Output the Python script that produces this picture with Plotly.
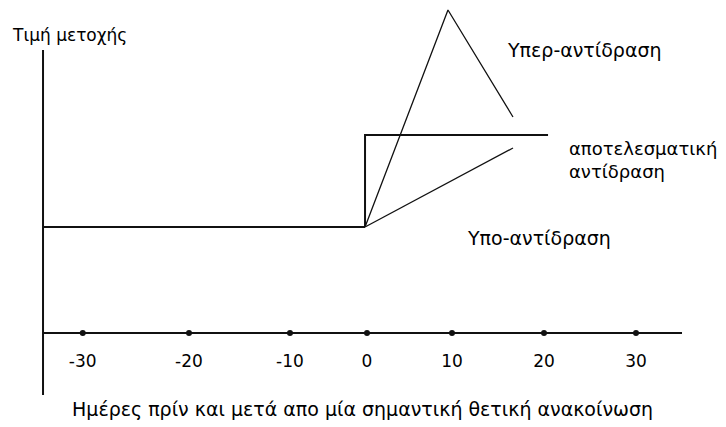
import plotly.graph_objects as go

# ---- data (x in days, y in arbitrary price units) ----
tick_pos = [-31.7, -19.85, -8.59, 0.0, 9.48, 19.74, 30.0]
tick_labels = ["-30", "-20", "-10", "0", "10", "20", "30"]

base_x = [-36.13, -0.22]
base_y = [10.6, 10.6]

eff_x = [-0.22, -0.22, 20.19]
eff_y = [10.6, 19.8, 19.8]

over_x = [-0.22, 9.03, 16.28]
over_y = [10.6, 32.3, 21.6]

under_x = [-0.22, 16.28]
under_y = [10.6, 18.5]

xaxis_x = [-36.13, 35.13]
xaxis_y = [0, 0]
yaxis_x = [-36.13, -36.13]
yaxis_y = [-6.2, 28.3]

W, H = 726, 427
OFF = 8  # page body margin in the rendered html
XR = [(0 - (367 - OFF)) / 8.967, (W - (367 - OFF)) / 8.967]
YR = [((333 - OFF) - H) / 10.0, (333 - OFF) / 10.0]

FONT = "DejaVu Sans, Verdana, sans-serif"
LC = "#111111"

fig = go.Figure()
fig.add_trace(go.Scatter(x=xaxis_x, y=xaxis_y, mode="lines", line=dict(color=LC, width=2)))
fig.add_trace(go.Scatter(x=yaxis_x, y=yaxis_y, mode="lines", line=dict(color=LC, width=2)))
fig.add_trace(go.Scatter(x=base_x, y=base_y, mode="lines", line=dict(color=LC, width=2)))
fig.add_trace(go.Scatter(x=eff_x, y=eff_y, mode="lines", line=dict(color=LC, width=2)))
fig.add_trace(go.Scatter(x=over_x, y=over_y, mode="lines", line=dict(color=LC, width=1.3)))
fig.add_trace(go.Scatter(x=under_x, y=under_y, mode="lines", line=dict(color=LC, width=1.3)))
fig.add_trace(go.Scatter(x=tick_pos, y=[0] * len(tick_pos), mode="markers",
                         marker=dict(color=LC, size=6)))
fig.add_trace(go.Scatter(x=tick_pos, y=[-3.0] * len(tick_pos), mode="text",
                         text=tick_labels, textposition="middle center",
                         textfont=dict(family=FONT, size=17, color="#000")))

def ann(text, px, py, anchor="left", size=18):
    fig.add_annotation(text=text, x=(px - OFF) / W, y=1 - (py - OFF) / H,
                       xref="paper", yref="paper",
                       xanchor=anchor, yanchor="middle", showarrow=False, align="left",
                       font=dict(family=FONT, size=size, color="#000"))

ann("Τιμή μετοχής", 10, 35, size=17)
ann("Υπερ-αντίδραση", 505, 50, size=19)
ann("αποτελεσματική<br>αντίδραση", 567, 160)
ann("Υπο-αντίδραση", 465, 238, size=19)
ann("Ημέρες πρίν και μετά απο μία σημαντική θετική ανακοίνωση", 362, 409, anchor="center", size=19)

fig.update_layout(
    width=W, height=H, margin=dict(l=0, r=0, t=0, b=0),
    paper_bgcolor="white", plot_bgcolor="white", showlegend=False,
    xaxis=dict(range=XR, visible=False, fixedrange=True),
    yaxis=dict(range=YR, visible=False, fixedrange=True),
)
fig.write_html("out.html")
